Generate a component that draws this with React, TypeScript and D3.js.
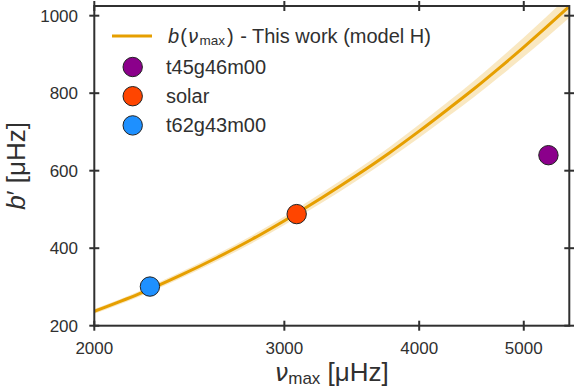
import React from "react";
import * as d3 from "d3";

const W = 574;
const H = 392;

// Fit curve b(nu_max)
const curveNu = [2000, 2200, 2400, 2600, 2800, 3000, 3250, 3500, 3750, 4000, 4250, 4500, 4750, 5000, 5250, 5500];
const curveB = [237, 282, 329, 376, 423, 471, 530, 588, 645, 702, 758, 812, 866, 919, 971, 1022];
const curveLow = [231, 275, 321, 367, 413, 460, 517, 574, 630, 685, 739, 791, 843, 894, 944, 993];
const curveHigh = [243, 289, 337, 385, 433, 482, 543, 602, 660, 719, 777, 833, 889, 944, 998, 1051];

// Simulation points
const pointNames = ["t45g46m00", "solar", "t62g43m00"];
const pointNu = [5270, 3080, 2252];
const pointB = [640, 488, 301];
const pointColors = ["#8b008b", "#ff4500", "#1e90ff"];

const xTicks = [2000, 3000, 4000, 5000];
const yTicks = [200, 400, 600, 800, 1000];

const FONT = "Liberation Sans, Arial, sans-serif";
const INK = "#303030";

export default function App() {
  const x = d3.scaleLog().domain([2000, 5510]).range([94.3, 569.3]);
  const y = d3.scaleLinear().domain([200, 1025]).range([325.7, 6]);
  const [x0, x1] = x.range();
  const [y0, y1] = y.range();

  const idx = d3.range(curveNu.length);
  const line = d3
    .line<number>()
    .x((i) => x(curveNu[i]))
    .y((i) => y(curveB[i]))
    .curve(d3.curveMonotoneX);
  const area = d3
    .area<number>()
    .x((i) => x(curveNu[i]))
    .y0((i) => y(curveLow[i]))
    .y1((i) => y(curveHigh[i]))
    .curve(d3.curveMonotoneX);

  const tk = 5;
  const lineColor = "#e69f00";

  return (
    <svg
      width={W}
      height={H}
      style={{ position: "absolute", left: 0, top: 0, background: "#fff" }}
      fontFamily={FONT}
    >
      <defs>
        <clipPath id="plot">
          <rect x={x0} y={y1} width={x1 - x0} height={y0 - y1} />
        </clipPath>
      </defs>
      <g clipPath="url(#plot)">
        <path d={area(idx) || ""} fill={lineColor} fillOpacity={0.24} stroke="none" />
        <path d={line(idx) || ""} fill="none" stroke={lineColor} strokeWidth={3} />
      </g>
      {pointNames.map((n, i) => (
        <circle
          key={n}
          cx={x(pointNu[i])}
          cy={y(pointB[i])}
          r={9.7}
          fill={pointColors[i]}
          stroke="#222"
          strokeWidth={1}
        />
      ))}
      {/* frame */}
      <rect x={x0} y={y1} width={x1 - x0} height={y0 - y1} fill="none" stroke={INK} strokeWidth={2} />
      {/* x ticks */}
      {xTicks.map((t) => (
        <g key={"x" + t}>
          <line x1={x(t)} x2={x(t)} y1={y0 - tk} y2={y0 + tk} stroke={INK} strokeWidth={2} />
          <line x1={x(t)} x2={x(t)} y1={y1 - tk} y2={y1 + tk} stroke={INK} strokeWidth={2} />
          <text x={x(t)} y={354} textAnchor="middle" fontSize={17} fill={INK}>
            {t}
          </text>
        </g>
      ))}
      {/* y ticks */}
      {yTicks.map((t) => (
        <g key={"y" + t}>
          <line x1={x0 - tk} x2={x0 + tk} y1={y(t)} y2={y(t)} stroke={INK} strokeWidth={2} />
          <line x1={x1 - tk} x2={x1 + tk} y1={y(t)} y2={y(t)} stroke={INK} strokeWidth={2} />
          <text x={78} y={y(t) + 6} textAnchor="end" fontSize={17} fill={INK}>
            {t}
          </text>
        </g>
      ))}
      {/* axis labels */}
      <text x={(x0 + x1) / 2} y={381} textAnchor="middle" fontSize={26} fill={INK}>
        <tspan fontStyle="italic" fontFamily="DejaVu Sans" fontSize={24}>ν</tspan>
        <tspan fontSize={17} dy={3}>max</tspan>
        <tspan dy={-3}> [μHz]</tspan>
      </text>
      <text
        transform={`translate(24.5, ${(y0 + y1) / 2}) rotate(-90)`}
        textAnchor="middle"
        fontSize={26}
        fill={INK}
      >
        <tspan fontStyle="italic">b</tspan>
        <tspan>′ [μHz]</tspan>
      </text>
      {/* legend */}
      <line x1={112} x2={152} y1={36} y2={36} stroke={lineColor} strokeWidth={3} />
      <text x={168} y={42.5} fontSize={20} fill={INK}>
        <tspan fontStyle="italic">b</tspan>
        <tspan dx={1}>(</tspan>
        <tspan fontStyle="italic" fontFamily="DejaVu Sans" fontSize={19} dx={1}>ν</tspan>
        <tspan fontSize={13.5} dy={2.5} dx={1}>max</tspan>
        <tspan dy={-2.5} dx={2}>)</tspan>
        <tspan dx={1}> - This work (model H)</tspan>
      </text>
      {pointNames.map((n, i) => {
        const cy = 67 + i * 29.2;
        return (
          <g key={"lg" + n}>
            <circle cx={132.7} cy={cy} r={9.7} fill={pointColors[i]} stroke="#222" strokeWidth={1} />
            <text x={166} y={cy + 6.5} fontSize={20} fill={INK}>
              {n}
            </text>
          </g>
        );
      })}
    </svg>
  );
}
